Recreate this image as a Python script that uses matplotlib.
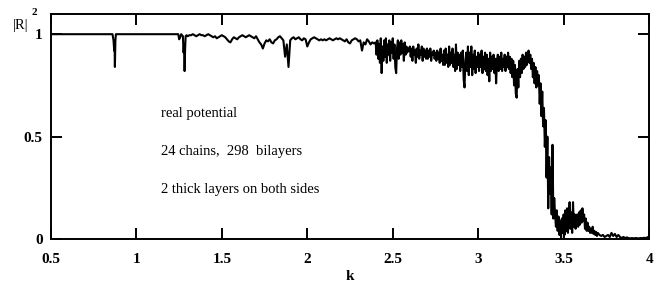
import numpy as np
import matplotlib
matplotlib.use("Agg")
import matplotlib.pyplot as plt

# |R|^2, in pieces

# 0.5 .. 1.30: flat at 1 with two narrow dips
k_start = [0.50, 0.860, 0.866, 0.870, 0.872, 0.874, 0.877, 0.880,
           1.245, 1.250, 1.256, 1.262, 1.272, 1.276, 1.279, 1.282, 1.285,
           1.288, 1.294]
r_start = [1.0, 1.0, 0.97, 0.92, 0.95, 0.84, 0.97, 1.0,
           1.0, 0.975, 0.985, 1.0, 0.99, 0.91, 0.95, 0.82, 0.93,
           0.99, 0.995]

# 1.30 .. 2.39, step 0.01
r_mid = [
    0.99, 0.995, 0.995, 1.0, 0.995, 0.99, 0.995, 1.0, 0.995, 0.995,
    0.99, 0.995, 1.0, 0.995, 0.99, 0.985, 0.99, 0.98, 0.985, 0.99,
    0.995, 0.99, 0.985, 0.975, 0.965, 0.96, 0.975, 0.985, 0.98, 0.975,
    0.985, 0.99, 0.995, 0.99, 0.985, 0.99, 0.995, 0.99, 0.985, 0.98,
    0.99, 0.975, 0.96, 0.95, 0.93, 0.955, 0.97, 0.965, 0.975, 0.96,
    0.955, 0.97, 0.975, 0.985, 0.99, 0.98, 0.97, 0.89, 0.95, 0.84,
    0.97, 0.98, 0.985, 0.975, 0.98, 0.985, 0.975, 0.97, 0.98, 0.975,
    0.94, 0.96, 0.975, 0.98, 0.985, 0.98, 0.975, 0.97, 0.975, 0.97,
    0.975, 0.97, 0.975, 0.98, 0.975, 0.97, 0.975, 0.98, 0.975, 0.98,
    0.975, 0.97, 0.965, 0.975, 0.96, 0.955, 0.97, 0.975, 0.98, 0.975,
    0.965, 0.97, 0.92, 0.96, 0.95, 0.975, 0.965, 0.95, 0.96, 0.955,
]

# 2.400 .. 3.695, step 0.005 (noisy part and the cut-off)
r_noisy = [
    0.96, 0.90, 0.97, 0.88, 0.95, 0.86, 0.98, 0.81, 0.94, 0.87,
    0.97, 0.89, 0.98, 0.86, 0.95, 0.90, 0.97, 0.87, 0.96, 0.91,
    0.98, 0.88, 0.95, 0.84, 0.81, 0.93, 0.97, 0.88, 0.96, 0.90,
    0.97, 0.91, 0.95, 0.87, 0.96, 0.90, 0.94, 0.91, 0.93, 0.92,
    0.94, 0.89, 0.93, 0.87, 0.94, 0.90, 0.92, 0.86, 0.93, 0.89,
    0.95, 0.88, 0.92, 0.90, 0.94, 0.87, 0.93, 0.89, 0.92, 0.88,
    0.93, 0.88, 0.92, 0.89, 0.93, 0.87, 0.91, 0.90, 0.92, 0.88,
    0.91, 0.87, 0.92, 0.88, 0.91, 0.86, 0.93, 0.87, 0.90, 0.85,
    0.92, 0.85, 0.93, 0.86, 0.90, 0.84, 0.94, 0.85, 0.91, 0.86,
    0.93, 0.84, 0.90, 0.82, 0.95, 0.83, 0.91, 0.85, 0.90, 0.82,
    0.91, 0.84, 0.92, 0.78, 0.74, 0.87, 0.91, 0.82, 0.94, 0.80,
    0.91, 0.84, 0.94, 0.80, 0.90, 0.83, 0.92, 0.81, 0.89, 0.84,
    0.91, 0.82, 0.90, 0.84, 0.92, 0.81, 0.89, 0.83, 0.91, 0.82,
    0.90, 0.80, 0.88, 0.77, 0.91, 0.82, 0.89, 0.83, 0.90, 0.81,
    0.88, 0.76, 0.87, 0.90, 0.82, 0.89, 0.83, 0.91, 0.82, 0.88,
    0.84, 0.90, 0.82, 0.89, 0.84, 0.91, 0.83, 0.89, 0.81, 0.88,
    0.79, 0.87, 0.75, 0.85, 0.71, 0.69, 0.83, 0.74, 0.87, 0.79,
    0.88, 0.81, 0.90, 0.83, 0.89, 0.84, 0.91, 0.85, 0.90, 0.92,
    0.86, 0.90, 0.83, 0.88, 0.79, 0.86, 0.76, 0.84, 0.74, 0.82,
    0.75, 0.80, 0.66, 0.76, 0.60, 0.72, 0.55, 0.64, 0.45, 0.58,
    0.30, 0.50, 0.15, 0.40, 0.22, 0.35, 0.12, 0.46, 0.10, 0.20,
    0.12, 0.06, 0.14, 0.04, 0.11, 0.02, 0.09, 0.005, 0.10, 0.03,
    0.12, 0.02, 0.14, 0.04, 0.15, 0.03, 0.10, 0.18, 0.05, 0.13,
    0.03, 0.18, 0.06, 0.12, 0.05, 0.10, 0.12, 0.06, 0.13, 0.07,
    0.14, 0.08, 0.15, 0.09, 0.12, 0.05, 0.10, 0.04, 0.08, 0.04,
    0.06, 0.03, 0.05, 0.03, 0.06, 0.025, 0.04, 0.02, 0.035, 0.015,
]

# 3.70 .. 4.00, step 0.01
r_tail = [
    0.03, 0.02, 0.015, 0.02, 0.01, 0.015, 0.02, 0.01, 0.03, 0.015,
    0.025, 0.01, 0.02, 0.01, 0.005, 0.01, 0.005, 0.008, 0.005, 0.003,
    0.005, 0.003, 0.005, 0.004, 0.003, 0.005, 0.004, 0.006, 0.005, 0.008,
    0.012,
]

k_mid = 1.30 + 0.01 * np.arange(len(r_mid))
k_noisy = 2.40 + 0.005 * np.arange(len(r_noisy))
k_tail = 3.70 + 0.01 * np.arange(len(r_tail))

k = np.concatenate([k_start, k_mid, k_noisy, k_tail])
r = np.concatenate([r_start, r_mid, r_noisy, r_tail])

x_ticks = [0.5, 1, 1.5, 2, 2.5, 3, 3.5, 4]
x_labels = ["0.5", "1", "1.5", "2", "2.5", "3", "3.5", "4"]
y_ticks = [0, 0.5, 1]
y_labels = ["0", "0.5", "1"]

notes = ["real potential", "24 chains,  298  bilayers", "2 thick layers on both sides"]

plt.rcParams["font.family"] = ["Liberation Serif", "DejaVu Serif"]

fig = plt.figure(figsize=(6.69, 2.88), dpi=100)
ax = fig.add_axes([0.0762, 0.170, 0.894, 0.781])

ax.plot(k, r, color="black", linewidth=1.5)

ax.set_xlim(0.5, 4)
ax.set_ylim(0, 1.098)
ax.set_xticks(x_ticks)
ax.set_xticklabels(x_labels, fontsize=11, fontweight="bold")
ax.set_yticks(y_ticks)
ax.set_yticklabels(y_labels, fontsize=11, fontweight="bold")
ax.tick_params(direction="in", length=8, width=1.4, top=True, right=True)
ax.tick_params(axis="x", pad=10)
ax.tick_params(axis="y", pad=6)
for s in ax.spines.values():
    s.set_linewidth(1.4)

ax.set_xlabel("k", fontsize=11, fontweight="bold", labelpad=3)

# |R|^2 label at top left
fig.text(13 / 669, 1 - 29 / 288, "|R|", fontsize=10.5, ha="left", va="baseline")
fig.text(31 / 669, 1 - 15 / 288, "2", fontsize=8, fontweight="bold", ha="left", va="baseline")

for i, t in enumerate(notes):
    fig.text(161 / 669, 1 - (117 + i * 38) / 288, t, fontsize=10.5,
             ha="left", va="baseline")

fig.savefig("out.png", dpi=100)
